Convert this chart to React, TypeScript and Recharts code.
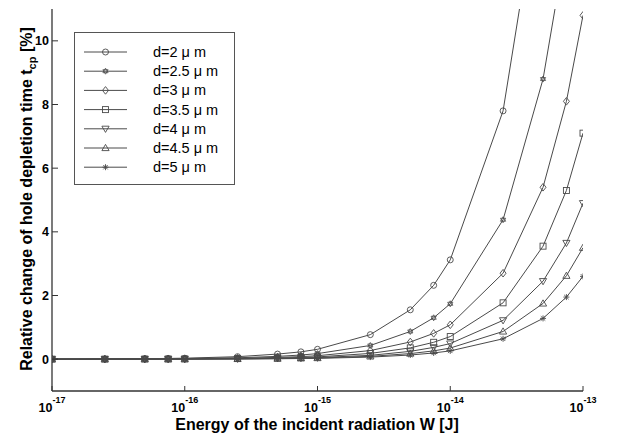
import React from "react";
import { LineChart, Line, XAxis, YAxis } from "recharts";

// energy of the incident radiation W [J]
const energies = [
  1e-17, 2.5e-17, 5e-17, 7.5e-17, 1e-16, 2.5e-16, 5e-16, 7.5e-16, 1e-15,
  2.5e-15, 5e-15, 7.5e-15, 1e-14, 2.5e-14, 5e-14, 7.5e-14, 1e-13,
];

// relative change of hole depletion time [%]
const d20 = [0.003, 0.008, 0.016, 0.023, 0.031, 0.078, 0.16, 0.23, 0.31, 0.77, 1.55, 2.32, 3.12, 7.8, 15.6, 23.4, 31.2];
const d25 = [0.002, 0.004, 0.009, 0.013, 0.018, 0.044, 0.088, 0.13, 0.175, 0.43, 0.87, 1.3, 1.74, 4.38, 8.8, 13.1, 17.5];
const d30 = [0.001, 0.003, 0.005, 0.008, 0.011, 0.027, 0.054, 0.08, 0.108, 0.27, 0.54, 0.81, 1.08, 2.7, 5.4, 8.1, 10.8];
const d35 = [0.001, 0.002, 0.004, 0.005, 0.007, 0.018, 0.035, 0.053, 0.071, 0.18, 0.355, 0.53, 0.71, 1.77, 3.55, 5.3, 7.1];
const d40 = [0.0005, 0.001, 0.002, 0.004, 0.005, 0.012, 0.025, 0.037, 0.049, 0.12, 0.245, 0.37, 0.49, 1.22, 2.45, 3.65, 4.9];
const d45 = [0.0004, 0.001, 0.002, 0.003, 0.0035, 0.009, 0.018, 0.026, 0.035, 0.088, 0.175, 0.26, 0.35, 0.87, 1.75, 2.62, 3.5];
const d50 = [0.0003, 0.0007, 0.0013, 0.002, 0.0026, 0.0065, 0.013, 0.02, 0.026, 0.065, 0.13, 0.195, 0.26, 0.64, 1.28, 1.95, 2.6];

const seriesKeys = ["d20", "d25", "d30", "d35", "d40", "d45", "d50"];
const seriesLabels = ["d=2 μ m", "d=2.5 μ m", "d=3 μ m", "d=3.5 μ m", "d=4 μ m", "d=4.5 μ m", "d=5 μ m"];
const seriesMarkers = ["circle", "hexagram", "diamond", "square", "down", "up", "star"];
const seriesValues = [d20, d25, d30, d35, d40, d45, d50];

const xTicks = [1e-17, 1e-16, 1e-15, 1e-14, 1e-13];
const xTickExp = ["-17", "-16", "-15", "-14", "-13"];
const yTicks = [0, 2, 4, 6, 8, 10];

const data = energies.map((w, i) => {
  const row: Record<string, number> = { w };
  seriesKeys.forEach((k, j) => (row[k] = seriesValues[j][i]));
  return row;
});

const FONT = '"Liberation Sans", Arial, sans-serif';
const INK = "#4a4a4a";
const FRAME = "#333";

const Marker = ({ kind, cx, cy }: { kind: string; cx: number; cy: number }) => {
  const p = { fill: "none", stroke: INK, strokeWidth: 0.9 };
  switch (kind) {
    case "circle":
      return <circle cx={cx} cy={cy} r={3} {...p} />;
    case "hexagram":
      return (
        <g {...p} strokeWidth={0.8}>
          <polygon points={`${cx},${cy - 3} ${cx + 2.6},${cy + 1.5} ${cx - 2.6},${cy + 1.5}`} />
          <polygon points={`${cx},${cy + 3} ${cx + 2.6},${cy - 1.5} ${cx - 2.6},${cy - 1.5}`} />
        </g>
      );
    case "diamond":
      return <polygon points={`${cx},${cy - 3.8} ${cx + 3},${cy} ${cx},${cy + 3.8} ${cx - 3},${cy}`} {...p} />;
    case "square":
      return <rect x={cx - 3} y={cy - 3} width={6} height={6} {...p} />;
    case "down":
      return <polygon points={`${cx - 3.6},${cy - 2.6} ${cx + 3.6},${cy - 2.6} ${cx},${cy + 3.6}`} {...p} />;
    case "up":
      return <polygon points={`${cx - 3.6},${cy + 2.6} ${cx + 3.6},${cy + 2.6} ${cx},${cy - 3.6}`} {...p} />;
    default:
      return (
        <g {...p}>
          <line x1={cx - 3} y1={cy} x2={cx + 3} y2={cy} />
          <line x1={cx} y1={cy - 3} x2={cx} y2={cy + 3} />
          <line x1={cx - 2.2} y1={cy - 2.2} x2={cx + 2.2} y2={cy + 2.2} />
          <line x1={cx - 2.2} y1={cy + 2.2} x2={cx + 2.2} y2={cy - 2.2} />
        </g>
      );
  }
};

const LeftTick = (props: any) => {
  const { x, y, payload } = props;
  return (
    <g>
      <line x1={x} y1={y} x2={x + 6} y2={y} stroke={FRAME} />
      <text x={x - 3} y={y + 4.5} textAnchor="end" fontFamily={FONT} fontWeight="bold" fontSize={12.5} fill="#000">
        {payload.value}
      </text>
    </g>
  );
};

const RightTick = (props: any) => {
  const { x, y } = props;
  return <line x1={x - 6} y1={y} x2={x} y2={y} stroke={FRAME} />;
};

const BottomTick = (props: any) => {
  const { x, y, index } = props;
  return (
    <g>
      <line x1={x} y1={y} x2={x} y2={y - 5} stroke={FRAME} />
      <text x={x} y={y + 21} textAnchor="middle" fontFamily={FONT} fontWeight="bold" fontSize={12.5} fill="#000">
        10
        <tspan dy={-9.5} fontSize={9}>
          {xTickExp[index]}
        </tspan>
      </text>
    </g>
  );
};

const TopTick = (props: any) => {
  const { x, y } = props;
  return <line x1={x} y1={y} x2={x} y2={y + 5} stroke={FRAME} />;
};

const ChartLegend = () => (
  <svg width={162} height={154} style={{ position: "absolute", left: 74, top: 32 }}>
    <rect x={0.5} y={0.5} width={160} height={152} fill="#fff" stroke="#555" />
    {seriesLabels.map((label, i) => {
      const y = 20 + i * 19.2;
      return (
        <g key={label}>
          <line x1={10} y1={y} x2={53} y2={y} stroke={INK} />
          <Marker kind={seriesMarkers[i]} cx={31.5} cy={y} />
          <text x={79} y={y + 5} fontFamily={FONT} fontSize={14.5} fill="#000">
            {label}
          </text>
        </g>
      );
    })}
  </svg>
);

export default function App() {
  return (
    <div style={{ position: "absolute", left: 0, top: 0, width: 618, height: 438, background: "#fff" }}>
      <LineChart width={618} height={438} data={data} margin={{ top: 9, right: 35, bottom: 0, left: 0 }}>
        <XAxis
          xAxisId="b"
          dataKey="w"
          type="number"
          scale="log"
          domain={[1e-17, 1e-13]}
          ticks={xTicks}
          allowDataOverflow
          height={47}
          tickSize={0}
          tickMargin={0}
          tick={<BottomTick />}
          axisLine={{ stroke: FRAME, strokeWidth: 1.3 }}
          interval={0}
        />
        <XAxis
          xAxisId="t"
          orientation="top"
          dataKey="w"
          type="number"
          scale="log"
          domain={[1e-17, 1e-13]}
          ticks={xTicks}
          allowDataOverflow
          height={0}
          tickSize={0}
          tickMargin={0}
          tick={<TopTick />}
          axisLine={{ stroke: FRAME, strokeWidth: 1.3 }}
          interval={0}
        />
        <YAxis
          yAxisId="l"
          type="number"
          domain={[-1, 11]}
          ticks={yTicks}
          allowDataOverflow
          width={52}
          tickSize={0}
          tickMargin={0}
          tick={<LeftTick />}
          axisLine={{ stroke: FRAME, strokeWidth: 1.3 }}
          interval={0}
        />
        <YAxis
          yAxisId="r"
          orientation="right"
          type="number"
          domain={[-1, 11]}
          ticks={yTicks}
          allowDataOverflow
          width={0}
          tickSize={0}
          tickMargin={0}
          tick={<RightTick />}
          axisLine={{ stroke: FRAME, strokeWidth: 1.3 }}
          interval={0}
        />
        {seriesKeys.map((k, i) => (
          <Line
            key={k}
            xAxisId="b"
            yAxisId="l"
            dataKey={k}
            type="linear"
            stroke={INK}
            strokeWidth={1}
            isAnimationActive={false}
            dot={(p: any) => <Marker key={`${k}-${p.index}`} kind={seriesMarkers[i]} cx={p.cx} cy={p.cy} />}
            activeDot={false}
          />
        ))}
        <text x={32} y={199} transform="rotate(-90, 32, 199)" textAnchor="middle" fontFamily={FONT} fontWeight="bold" fontSize={16} fill="#000">
          Relative change of hole depletion time t
          <tspan dy={4} fontSize={11}>cp</tspan>
          <tspan dy={-4}> [%]</tspan>
        </text>
        <text x={317} y={430} textAnchor="middle" fontFamily={FONT} fontWeight="bold" fontSize={16} fill="#000">
          Energy of the incident radiation W [J]
        </text>
      </LineChart>
      <ChartLegend />
    </div>
  );
}
